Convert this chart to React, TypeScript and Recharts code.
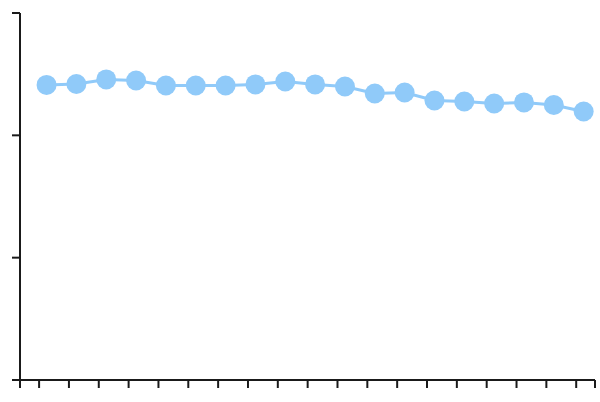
import React from 'react';
import { LineChart, Line, XAxis, YAxis } from 'recharts';

// x positions of the points (they sit a little right of each tick)
const xValues = [1.25, 2.25, 3.25, 4.25, 5.25, 6.25, 7.25, 8.25, 9.25, 10.25, 11.25, 12.25, 13.25, 14.25, 15.25, 16.25, 17.25, 18.25, 19.25];
const seriesValues = [241.2, 242, 245.7, 244.8, 240.7, 240.7, 240.7, 241.6, 244, 241.6, 239.9, 234.2, 235, 228.5, 227.7, 226, 226.9, 224.8, 219.5];

const xTicks = [0.36, 1, 2, 3, 4, 5, 6, 7, 8, 9, 10, 11, 12, 13, 14, 15, 16, 17, 18, 19, 19.63];
const yTicks = [0, 100, 200, 300];

const data = xValues.map((x, i) => ({ x, value: seriesValues[i] }));

const AXIS_COLOR = '#1a1a1a';
const LINE_COLOR = '#90CAF9';

const App: React.FC = () => {
  return (
    <div style={{ position: 'absolute', left: 0, top: 0, width: 600, height: 402, background: '#fff' }}>
      <LineChart width={600} height={402} data={data} margin={{ top: 13, right: 5, left: 0, bottom: 0 }}>
        <XAxis
          dataKey="x"
          type="number"
          domain={[0.36, 19.63]}
          ticks={xTicks}
          allowDataOverflow
          tickSize={8}
          height={22}
          tickFormatter={() => ''}
          stroke={AXIS_COLOR}
          axisLine={{ stroke: AXIS_COLOR, strokeWidth: 2 }}
          tickLine={{ stroke: AXIS_COLOR, strokeWidth: 2 }}
        />
        <YAxis
          type="number"
          domain={[0, 300]}
          ticks={yTicks}
          tickSize={8}
          width={20}
          tickFormatter={() => ''}
          stroke={AXIS_COLOR}
          axisLine={{ stroke: AXIS_COLOR, strokeWidth: 2 }}
          tickLine={{ stroke: AXIS_COLOR, strokeWidth: 2 }}
        />
        <Line
          type="linear"
          dataKey="value"
          stroke={LINE_COLOR}
          strokeWidth={3}
          dot={{ r: 10, fill: LINE_COLOR, stroke: 'none' }}
          activeDot={false}
          isAnimationActive={false}
        />
      </LineChart>
    </div>
  );
};

export default App;
